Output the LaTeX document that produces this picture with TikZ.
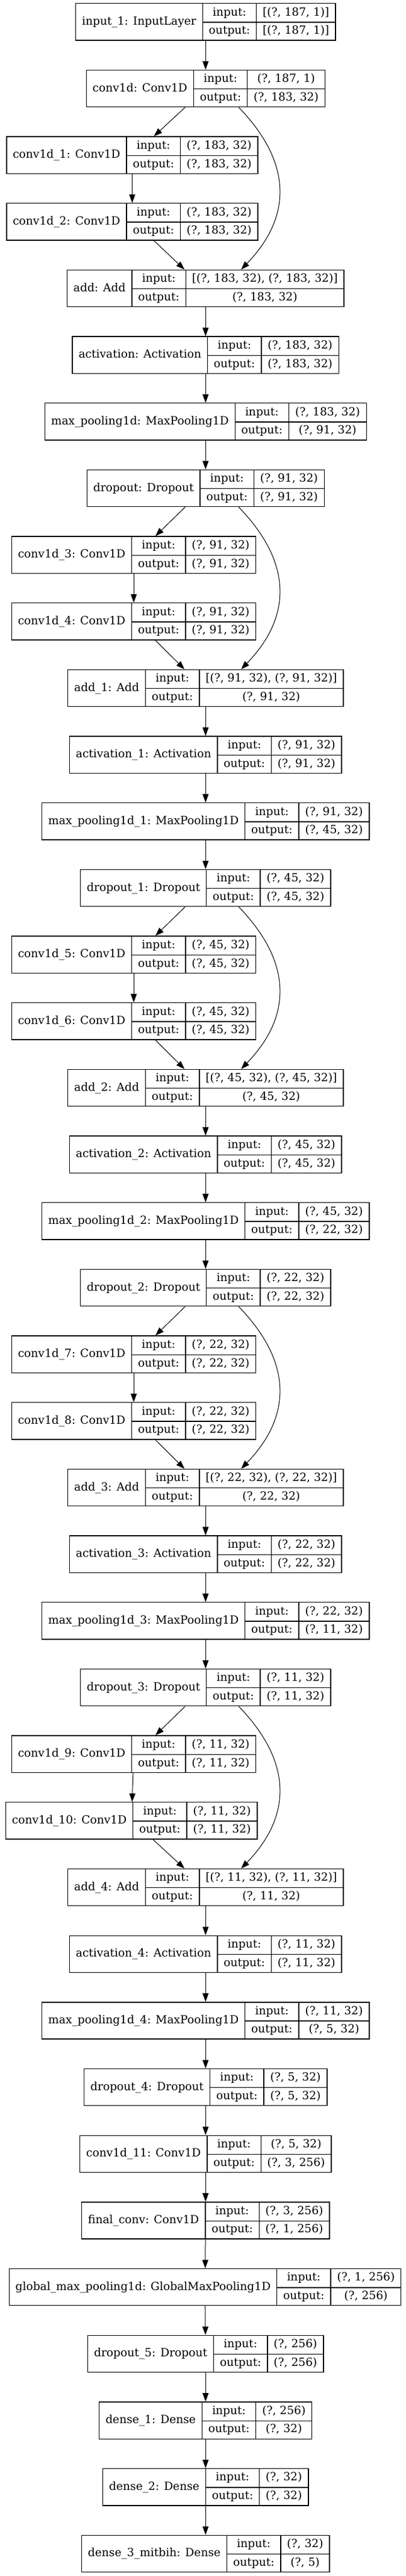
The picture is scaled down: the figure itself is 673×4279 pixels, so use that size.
\documentclass[tikz,border=0pt]{standalone}
\usepackage{fontspec}
\setmainfont{DejaVu Serif}
\usetikzlibrary{arrows.meta}
\newlength\outw
\newcommand{\layerbox}[3]{%
\settowidth{\outw}{output:}%
\setlength{\tabcolsep}{\dimexpr(89.4pt-\outw)/2\relax}%
\setlength{\arrayrulewidth}{1.33pt}%
\begin{tabular}{c|c|c}
 & input: & #2\rule[-10.3pt]{0pt}{30.65pt}\\ \cline{2-3}
\raisebox{15.3pt}[0pt][0pt]{#1} & output: & #3\rule[-10.3pt]{0pt}{30.65pt}
\end{tabular}}
\begin{document}
\begin{tikzpicture}[x=1pt,y=-1pt,
layer/.style={draw,line width=1.33pt,inner sep=0pt,font=\fontsize{18.67}{22}\selectfont},
edge/.style={-{Triangle[length=14pt,width=10pt]},line width=1pt}]
\useasboundingbox (0,0) rectangle (673,4279);
\node[layer] (in1) at (341.3,36.35) {\layerbox{input\_1: InputLayer}{[(?, 187, 1)]}{[(?, 187, 1)]}};
\node[layer] (c0) at (341.3,147.02) {\layerbox{conv1d: Conv1D}{(?, 187, 1)}{(?, 183, 32)}};
\node[layer,anchor=east] (c1) at (428.8,257.69) {\layerbox{conv1d\_1: Conv1D}{(?, 183, 32)}{(?, 183, 32)}};
\node[layer,anchor=east] (c2) at (428.8,368.36) {\layerbox{conv1d\_2: Conv1D}{(?, 183, 32)}{(?, 183, 32)}};
\node[layer] (add0) at (341.3,479.03) {\layerbox{add: Add}{[(?, 183, 32), (?, 183, 32)]}{(?, 183, 32)}};
\node[layer] (act0) at (341.3,589.70) {\layerbox{activation: Activation}{(?, 183, 32)}{(?, 183, 32)}};
\node[layer] (mp0) at (341.3,700.37) {\layerbox{max\_pooling1d: MaxPooling1D}{(?, 183, 32)}{(?, 91, 32)}};
\node[layer] (dr0) at (341.3,811.04) {\layerbox{dropout: Dropout}{(?, 91, 32)}{(?, 91, 32)}};
\node[layer,anchor=east] (c3) at (425.4,921.71) {\layerbox{conv1d\_3: Conv1D}{(?, 91, 32)}{(?, 91, 32)}};
\node[layer,anchor=east] (c4) at (425.4,1032.38) {\layerbox{conv1d\_4: Conv1D}{(?, 91, 32)}{(?, 91, 32)}};
\node[layer] (add1) at (341.3,1143.05) {\layerbox{add\_1: Add}{[(?, 91, 32), (?, 91, 32)]}{(?, 91, 32)}};
\node[layer] (act1) at (341.3,1253.72) {\layerbox{activation\_1: Activation}{(?, 91, 32)}{(?, 91, 32)}};
\node[layer] (mp1) at (341.3,1364.39) {\layerbox{max\_pooling1d\_1: MaxPooling1D}{(?, 91, 32)}{(?, 45, 32)}};
\node[layer] (dr1) at (341.3,1475.06) {\layerbox{dropout\_1: Dropout}{(?, 45, 32)}{(?, 45, 32)}};
\node[layer,anchor=east] (c5) at (425.4,1585.73) {\layerbox{conv1d\_5: Conv1D}{(?, 45, 32)}{(?, 45, 32)}};
\node[layer,anchor=east] (c6) at (425.4,1696.40) {\layerbox{conv1d\_6: Conv1D}{(?, 45, 32)}{(?, 45, 32)}};
\node[layer] (add2) at (341.3,1807.07) {\layerbox{add\_2: Add}{[(?, 45, 32), (?, 45, 32)]}{(?, 45, 32)}};
\node[layer] (act2) at (341.3,1917.74) {\layerbox{activation\_2: Activation}{(?, 45, 32)}{(?, 45, 32)}};
\node[layer] (mp2) at (341.3,2028.41) {\layerbox{max\_pooling1d\_2: MaxPooling1D}{(?, 45, 32)}{(?, 22, 32)}};
\node[layer] (dr2) at (341.3,2139.08) {\layerbox{dropout\_2: Dropout}{(?, 22, 32)}{(?, 22, 32)}};
\node[layer,anchor=east] (c7) at (425.4,2249.75) {\layerbox{conv1d\_7: Conv1D}{(?, 22, 32)}{(?, 22, 32)}};
\node[layer,anchor=east] (c8) at (425.4,2360.42) {\layerbox{conv1d\_8: Conv1D}{(?, 22, 32)}{(?, 22, 32)}};
\node[layer] (add3) at (341.3,2471.09) {\layerbox{add\_3: Add}{[(?, 22, 32), (?, 22, 32)]}{(?, 22, 32)}};
\node[layer] (act3) at (341.3,2581.76) {\layerbox{activation\_3: Activation}{(?, 22, 32)}{(?, 22, 32)}};
\node[layer] (mp3) at (341.3,2692.43) {\layerbox{max\_pooling1d\_3: MaxPooling1D}{(?, 22, 32)}{(?, 11, 32)}};
\node[layer] (dr3) at (341.3,2803.10) {\layerbox{dropout\_3: Dropout}{(?, 11, 32)}{(?, 11, 32)}};
\node[layer,anchor=east] (c9) at (425.4,2913.77) {\layerbox{conv1d\_9: Conv1D}{(?, 11, 32)}{(?, 11, 32)}};
\node[layer,anchor=east] (c10) at (427.5,3024.44) {\layerbox{conv1d\_10: Conv1D}{(?, 11, 32)}{(?, 11, 32)}};
\node[layer] (add4) at (341.3,3135.11) {\layerbox{add\_4: Add}{[(?, 11, 32), (?, 11, 32)]}{(?, 11, 32)}};
\node[layer] (act4) at (341.3,3245.78) {\layerbox{activation\_4: Activation}{(?, 11, 32)}{(?, 11, 32)}};
\node[layer] (mp4) at (341.3,3356.45) {\layerbox{max\_pooling1d\_4: MaxPooling1D}{(?, 11, 32)}{(?, 5, 32)}};
\node[layer] (dr4) at (341.3,3467.12) {\layerbox{dropout\_4: Dropout}{(?, 5, 32)}{(?, 5, 32)}};
\node[layer] (c11) at (341.3,3577.79) {\layerbox{conv1d\_11: Conv1D}{(?, 5, 32)}{(?, 3, 256)}};
\node[layer] (fconv) at (341.3,3688.46) {\layerbox{final\_conv: Conv1D}{(?, 3, 256)}{(?, 1, 256)}};
\node[layer] (gmp) at (340.5,3799.13) {\layerbox{global\_max\_pooling1d: GlobalMaxPooling1D}{(?, 1, 256)}{(?, 256)}};
\node[layer] (dr5) at (341.3,3909.80) {\layerbox{dropout\_5: Dropout}{(?, 256)}{(?, 256)}};
\node[layer] (d1) at (341.3,4020.47) {\layerbox{dense\_1: Dense}{(?, 256)}{(?, 32)}};
\node[layer] (d2) at (341.3,4131.14) {\layerbox{dense\_2: Dense}{(?, 32)}{(?, 32)}};
\node[layer] (d3) at (341.3,4241.81) {\layerbox{dense\_3\_mitbih: Dense}{(?, 32)}{(?, 5)}};
% straight chain
\foreach \a/\b in {in1/c0,add0/act0,act0/mp0,mp0/dr0,add1/act1,act1/mp1,mp1/dr1,
add2/act2,act2/mp2,mp2/dr2,add3/act3,act3/mp3,mp3/dr3,add4/act4,act4/mp4,mp4/dr4,
dr4/c11,c11/fconv,fconv/gmp,gmp/dr5,dr5/d1,d1/d2,d2/d3}
\draw[edge] (\a) -- (\b);
% residual blocks
\foreach \p/\u/\v/\s in {c0/c1/c2/add0,dr0/c3/c4/add1,dr1/c5/c6/add2,dr2/c7/c8/add3,dr3/c9/c10/add4}{
\draw[edge] ([xshift=-34pt]\p.south) -- ([xshift=36pt]\u.north);
\draw[edge] (\u) -- (\v);
\draw[edge] ([xshift=36pt]\v.south) -- ([xshift=-35pt]\s.north);
\draw[edge] ([xshift=55pt]\p.south) .. controls +(89,92) and +(85,-88) .. ([xshift=59pt]\s.north);
}
\end{tikzpicture}
\end{document}
